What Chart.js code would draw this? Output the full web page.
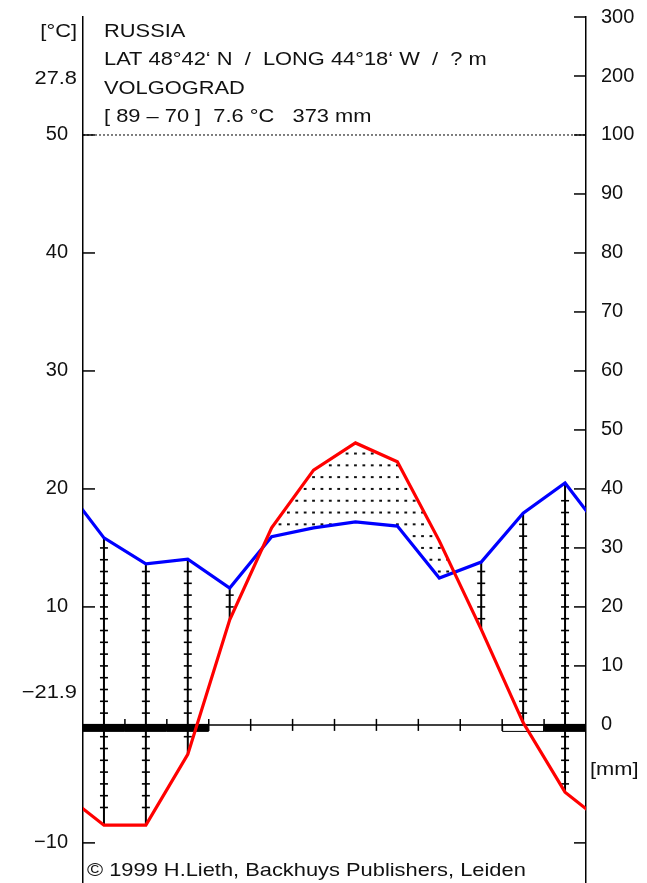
<!DOCTYPE html>
<html>
<head>
<meta charset="utf-8">
<title>Volgograd climate diagram</title>
<script src="https://cdn.jsdelivr.net/npm/chart.js@4.4.1/dist/chart.umd.min.js"></script>
<style>
  html, body { margin: 0; padding: 0; background: #fff; }
  #wrap { width: 647px; height: 883px; }
</style>
</head>
<body>
<div id="wrap"><canvas id="chart" width="647" height="883"></canvas></div>
<script>
// ── Data ──────────────────────────────────────────────────────────────────────

const months   = ['Jan', 'Feb', 'Mar', 'Apr', 'May', 'Jun', 'Jul', 'Aug', 'Sep', 'Oct', 'Nov', 'Dec'];
const tempC    = [-8.5, -8.5, -2.5, 8.9, 16.7, 21.6, 23.9, 22.3, 15.6, 8.1, 0.2, -5.7];
const precipMm = [31.7, 27.3, 28.1, 23.2, 31.9, 33.4, 34.4, 33.7, 24.9, 27.6, 35.9, 41.0];

// black bar: mean daily minimum below 0 °C, open box: absolute minimum below 0 °C
const coldMonths  = [1, 1, 1, 0, 0, 0, 0, 0, 0, 0, 0, 1];
const frostMonths = [0, 0, 0, 0, 0, 0, 0, 0, 0, 0, 1, 0];

const tempTicks       = [-10, 10, 20, 30, 40, 50];
const tempTickLabels  = ['\u221210', '10', '20', '30', '40', '50'];
// above 100 mm the scale is compressed: 110 -> 200 mm, 120 -> 300 mm
const precipTicks      = [-20, 0, 10, 20, 30, 40, 50, 60, 70, 80, 90, 100, 110, 120];
const precipTickLabels = ['', '0', '10', '20', '30', '40', '50', '60', '70', '80', '90', '100', '200', '300'];

const headerLines = [
  'RUSSIA',
  'LAT 48\u00b042\u2018 N  /  LONG 44\u00b018\u2018 W  /  ? m',
  'VOLGOGRAD',
  '[ 89 \u2013 70 ]  7.6 \u00b0C   373 mm',
];
const maxTempLabel = '27.8';
const minTempLabel = '\u221221.9';
const copyright    = '\u00a9 1999 H.Lieth, Backhuys Publishers, Leiden';

// ── Helpers ───────────────────────────────────────────────────────────────────

const FONT    = "'Liberation Sans', Arial, sans-serif";
const STRETCH = 1.15;

// one year of points, with December / January wrapped round the edges
function yearPoints(values) {
  const pts = values.map((v, i) => ({ x: i + 0.5, y: v }));
  pts.unshift({ x: -0.5, y: values[11] });
  pts.push({ x: 12.5, y: values[0] });
  return pts;
}

function pixelAt(pts, x) {
  for (let j = 0; j < pts.length - 1; j++) {
    const a = pts[j], b = pts[j + 1];
    if (x >= a.x && x <= b.x) return a.y + (b.y - a.y) * (x - a.x) / (b.x - a.x);
  }
  return null;
}

function seg(ctx, x1, y1, x2, y2) {
  ctx.beginPath();
  ctx.moveTo(x1, y1);
  ctx.lineTo(x2, y2);
  ctx.stroke();
}

function text(ctx, str, x, y, align) {
  ctx.save();
  ctx.translate(x, y);
  ctx.scale(STRETCH, 1);
  ctx.textAlign = align;
  ctx.textBaseline = 'alphabetic';
  ctx.fillText(str, 0, 0);
  ctx.restore();
}

// no extra room for the end labels: the plot runs from y=17 to the bottom edge
function fixedBox(width) {
  return (s) => {
    s.width = width;
    s.paddingTop = 0;
    s.paddingBottom = 0;
  };
}

// ── Walter-Lieth decorations ──────────────────────────────────────────────────

const climatePlugin = {
  id: 'climate',

  beforeDatasetsDraw(chart) {
    const { ctx, chartArea: a, scales } = chart;
    const xs = scales.x, yT = scales.y, yP = scales.yP;
    ctx.save();

    // 50 °C / 100 mm line
    const y50 = yT.getPixelForValue(50);
    ctx.strokeStyle = '#000';
    ctx.lineWidth = 1;
    ctx.setLineDash([2, 2]);
    seg(ctx, a.left, y50, a.right, y50);
    ctx.setLineDash([]);

    // humid months: vertical line with a cross at every degree
    ctx.strokeStyle = '#000';
    months.forEach((m, i) => {
      if (precipMm[i] / 2 <= tempC[i]) return;
      const x    = xs.getPixelForValue(i + 0.5);
      const yTop = yP.getPixelForValue(precipMm[i]);
      const yBot = yT.getPixelForValue(tempC[i]);
      ctx.lineWidth = 2;
      seg(ctx, x, yTop, x, yBot);
      ctx.lineWidth = 1.6;
      for (let k = Math.ceil(tempC[i]); k <= precipMm[i] / 2; k++) {
        if (k - tempC[i] < 0.55 || precipMm[i] / 2 - k < 0.55) continue;
        const yk = yT.getPixelForValue(k);
        seg(ctx, x - 4, yk, x + 4, yk);
      }
    });

    // arid period: dotted rows between precipitation and temperature lines
    const tPts = chart.getDatasetMeta(0).data.map((p) => ({ x: p.x, y: p.y }));
    const pPts = chart.getDatasetMeta(1).data.map((p) => ({ x: p.x, y: p.y }));
    const step = (a.right - a.left) / 60;
    ctx.fillStyle = '#111';
    for (let k = 1; k < 50; k++) {
      const yk = yT.getPixelForValue(k);
      for (let x = a.left + step / 2; x < a.right; x += step) {
        const ty = pixelAt(tPts, x), py = pixelAt(pPts, x);
        if (ty === null || py === null) continue;
        if (ty < yk - 1 && py > yk + 1) ctx.fillRect(x - 1.4, yk - 1, 2.8, 2);
      }
    }

    // inward ticks on both vertical axes
    ctx.lineWidth = 1.5;
    tempTicks.forEach((v) => {
      const y = yT.getPixelForValue(v);
      seg(ctx, a.left, y, a.left + 12, y);
    });
    precipTicks.forEach((v) => {
      const y = yP.getPixelForValue(v);
      seg(ctx, a.right - 12, y, a.right, y);
    });

    // month axis at 0 °C
    const y0 = yT.getPixelForValue(0);
    seg(ctx, a.left, y0, a.right, y0);
    for (let i = 1; i < 12; i++) {
      const x = xs.getPixelForValue(i);
      seg(ctx, x, y0 - 6, x, y0 + 6);
    }

    // frost bars
    months.forEach((m, i) => {
      const x1 = xs.getPixelForValue(i), x2 = xs.getPixelForValue(i + 1);
      if (coldMonths[i]) {
        ctx.fillStyle = '#000';
        ctx.fillRect(x1, y0 - 1, x2 - x1, 8);
      } else if (frostMonths[i]) {
        ctx.lineWidth = 1;
        ctx.strokeRect(x1 + 0.5, y0, x2 - x1 - 1, 6.5);
      }
    });

    ctx.restore();
  },

  afterDraw(chart) {
    const { ctx } = chart;
    ctx.save();
    ctx.fillStyle = '#111';
    ctx.font = `19px ${FONT}`;
    headerLines.forEach((s, i) => text(ctx, s, 104, 37 + i * 28.4, 'left'));
    text(ctx, '[\u00b0C]', 77, 37, 'right');
    text(ctx, maxTempLabel, 77, 84, 'right');
    text(ctx, minTempLabel, 77, 698, 'right');
    text(ctx, '[mm]', 590, 775, 'left');
    text(ctx, copyright, 87, 876, 'left');
    ctx.restore();
  },
};

// ── Chart ─────────────────────────────────────────────────────────────────────

const tickFont = { family: FONT, size: 20 };

new Chart(document.getElementById('chart'), {
  type: 'line',
  data: {
    datasets: [
      {
        label:       'Temperature',
        data:        yearPoints(tempC),
        yAxisID:     'y',
        borderColor: '#ff0000',
        borderWidth: 3.2,
        pointRadius: 0,
        tension:     0,
        clip:        0,
      },
      {
        label:       'Precipitation',
        data:        yearPoints(precipMm),
        yAxisID:     'yP',
        borderColor: '#0000ff',
        borderWidth: 3.2,
        pointRadius: 0,
        tension:     0,
        clip:        0,
      },
    ],
  },
  options: {
    responsive: false,
    animation:  false,
    layout: { padding: { top: 17, bottom: 0, left: 0, right: 0 } },
    plugins: {
      legend:  { display: false },
      tooltip: { enabled: false },
    },
    scales: {
      x: {
        type: 'linear',
        min: 0,
        max: 12,
        display: false,
      },
      y: {
        type: 'linear',
        position: 'left',
        min: -13.4,
        max: 60,
        afterBuildTicks: (s) => { s.ticks = tempTicks.map((v) => ({ value: v })); },
        afterFit: fixedBox(83),
        grid:   { drawOnChartArea: false, drawTicks: false },
        border: { color: '#000', width: 1.5 },
        ticks: {
          autoSkip: false,
          padding:  15,
          color:    '#111',
          font:     tickFont,
          callback: (v) => tempTickLabels[tempTicks.indexOf(v)],
        },
      },
      yP: {
        type: 'linear',
        position: 'right',
        min: -26.8,
        max: 120,
        afterBuildTicks: (s) => { s.ticks = precipTicks.map((v) => ({ value: v })); },
        afterFit: fixedBox(61),
        grid:   { drawOnChartArea: false, drawTicks: false },
        border: { color: '#000', width: 1.5 },
        ticks: {
          autoSkip: false,
          padding:  15,
          color:    '#111',
          font:     tickFont,
          callback: (v) => precipTickLabels[precipTicks.indexOf(v)],
        },
      },
    },
  },
  plugins: [climatePlugin],
});
</script>
</body>
</html>
